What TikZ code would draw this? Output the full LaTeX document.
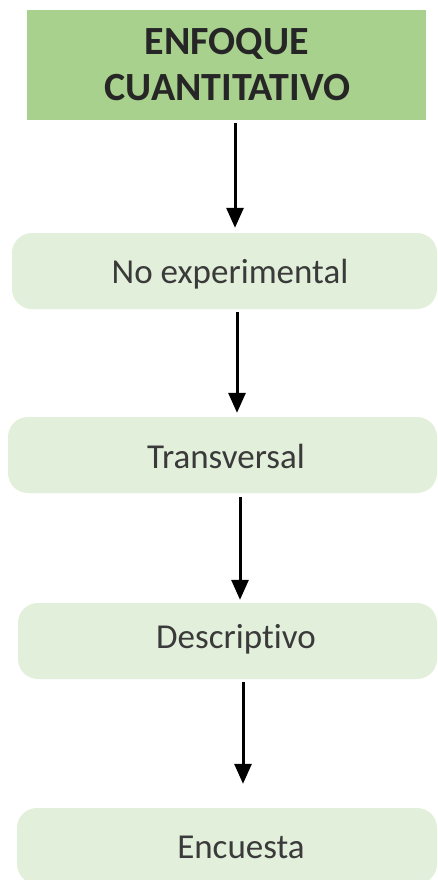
\documentclass[tikz,border=0pt]{standalone}
\usepackage{fontspec}
\setmainfont[Ligatures={NoCommon,NoRare,NoDiscretionary}]{Carlito}
\usetikzlibrary{arrows.meta}
\definecolor{titlegreen}{HTML}{A9D18E}
\definecolor{boxgreen}{HTML}{E2EFDA}
\definecolor{titletext}{HTML}{262626}
\definecolor{bodytext}{HTML}{3A3A3A}
\tikzset{
  titlebox/.style={draw=none, fill=titlegreen, rectangle, inner sep=0pt},
  stepbox/.style={draw=none, fill=boxgreen, rectangle, rounded corners=20pt, inner sep=0pt, minimum height=76pt},
  titlelabel/.style={anchor=base, inner sep=0pt, text=titletext, font=\fontsize{40}{46}\selectfont\bfseries},
  steplabel/.style={anchor=base, inner sep=0pt, text=bodytext, font=\fontsize{35}{40}\selectfont},
  arr/.style={line width=3pt, draw=black, -{Triangle[length=20pt,width=17pt]}}
}
\begin{document}
\begin{tikzpicture}[x=1pt,y=-1pt]
\useasboundingbox (0,0) rectangle (438,880);
\clip (0,0) rectangle (438,880);
\fill[white] (0,0) rectangle (438,880);
% boxes
\node[titlebox, minimum width=399pt, minimum height=110pt] (top) at (226.5,65) {};
\node[stepbox, minimum width=425pt] (b2) at (224.5,271) {};
\node[stepbox, minimum width=429pt] (b3) at (222.5,455) {};
\node[stepbox, minimum width=419pt] (b4) at (227.5,641) {};
\node[stepbox, minimum width=420pt] (b5) at (227,846) {};
% texts
\node[titlelabel] (t1a) at (227,55) {ENFOQUE};
\node[titlelabel] (t1b) at (227.5,101) {CUANTITATIVO};
\node[steplabel] (t2) at (230,283) {No experimental};
\node[steplabel] (t3) at (226,468) {Transversal};
\node[steplabel] (t4) at (236,648) {Descriptivo};
\node[steplabel] (t5) at (241,858) {Encuesta};
% arrow columns
\coordinate (c1) at (235,0);
\coordinate (c2) at (237,0);
\coordinate (c3) at (240,0);
\coordinate (c4) at (243,0);
\draw[arr, shorten <=3pt, shorten >=5pt] (top.south -| c1) -- (b2.north -| c1);
\draw[arr, shorten <=3pt, shorten >=4pt] (b2.south -| c2) -- (b3.north -| c2);
\draw[arr, shorten <=4pt, shorten >=3pt] (b3.south -| c3) -- (b4.north -| c3);
\draw[arr, shorten <=3pt, shorten >=24pt] (b4.south -| c4) -- (b5.north -| c4);
\end{tikzpicture}
\end{document}
